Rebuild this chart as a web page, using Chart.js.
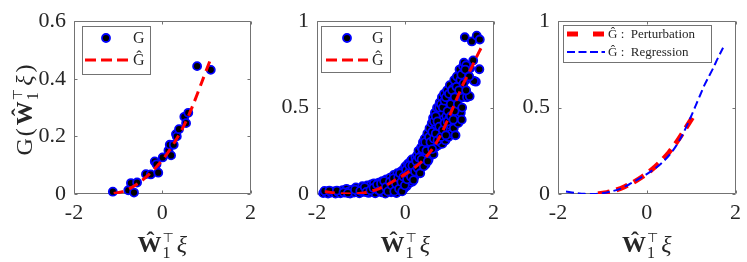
<!DOCTYPE html>
<html>
<head>
<meta charset="utf-8">
<script src="https://cdn.jsdelivr.net/npm/chart.js@4.4.1/dist/chart.umd.min.js"></script>
<style>
  html, body { margin: 0; padding: 0; background: #fff; }
  #wrap { position: relative; width: 747px; height: 262px; overflow: hidden; }
  .panel { position: absolute; top: 0; height: 262px; }
  canvas { display: block; }
</style>
</head>
<body>
<div id="wrap">
  <div class="panel" style="left:0;width:262px"><canvas id="c1" width="262" height="262"></canvas></div>
  <div class="panel" style="left:262px;width:243px"><canvas id="c2" width="243" height="262"></canvas></div>
  <div class="panel" style="left:505px;width:242px"><canvas id="c3" width="242" height="262"></canvas></div>
</div>
<script>
// ticks
const xTicks = [-2, 0, 2];
const yTicksLeft = [0, 0.2, 0.4, 0.6];
const yTicksUnit = [0, 0.5, 1];

// panel 1 : samples G and fitted curve
const g1X = [-1.12, -0.77, -0.71, -0.64, -0.57, -0.37, -0.26, -0.17, -0.13, -0.09, 0.01, 0.14, 0.17, 0.20,
  0.26, 0.31, 0.33, 0.38, 0.50, 0.54, 0.59, 0.79, 1.10];
const g1Y = [0.008, 0.013, 0.038, 0.005, 0.040, 0.069, 0.068, 0.113, 0.103, 0.074, 0.127, 0.151, 0.171, 0.134,
  0.171, 0.208, 0.200, 0.225, 0.268, 0.246, 0.282, 0.444, 0.431];
const fit1X = [-1.1, -0.9, -0.7, -0.5, -0.3, -0.1, 0.1, 0.3, 0.5, 0.7, 0.9, 1.1];
const fit1Y = [0.002, 0.008, 0.022, 0.042, 0.068, 0.1, 0.138, 0.185, 0.24, 0.31, 0.39, 0.47];

// panel 2 : many samples [x, G]
const g2Points = [
  [-1.86, 0.005], [-1.80, 0.01], [-1.75, 0.003], [-1.68, 0.008], [-1.62, 0.015], [-1.58, 0.002],
  [-1.52, 0.012], [-1.47, 0.004], [-1.42, 0.022], [-1.37, 0.008], [-1.33, 0.03], [-1.28, 0.015], [-1.25, 0.002],
  [-1.20, 0.025], [-1.16, 0.008], [-1.12, 0.038], [-1.08, 0.015], [-1.04, 0.004], [-1.00, 0.03], [-0.97, 0.045],
  [-0.94, 0.012], [-0.90, 0.025], [-0.86, 0.05], [-0.83, 0.006], [-0.80, 0.035], [-0.77, 0.055], [-0.74, 0.018],
  [-0.71, 0.062], [-0.68, 0.004], [-0.66, 0.04], [-0.62, 0.025], [-0.60, 0.066], [-0.57, 0.045], [-0.54, 0.01],
  [-0.52, 0.075], [-0.50, 0.035], [-0.47, 0.058], [-0.45, 0.002], [-0.43, 0.085], [-0.41, 0.02], [-0.38, 0.065],
  [-0.36, 0.045], [-0.34, 0.095], [-0.32, 0.01], [-0.30, 0.075], [-0.28, 0.03], [-0.26, 0.11], [-0.24, 0.055],
  [-0.22, 0.088], [-0.20, 0.005], [-0.18, 0.12], [-0.17, 0.04], [-0.15, 0.07], [-0.13, 0.10], [-0.11, 0.018],
  [-0.10, 0.13], [-0.08, 0.055], [-0.06, 0.085], [-0.05, 0.14], [-0.03, 0.03], [-0.02, 0.11], [0.00, 0.16],
  [0.01, 0.07], [0.03, 0.045], [0.04, 0.13], [0.05, 0.095], [0.06, 0.175], [0.08, 0.06], [0.10, 0.115],
  [0.11, 0.15], [0.12, 0.19], [0.14, 0.085], [0.15, 0.20], [0.16, 0.07], [0.18, 0.135], [0.20, 0.17],
  [0.21, 0.10], [0.23, 0.21], [0.24, 0.15], [0.26, 0.12], [0.27, 0.225], [0.29, 0.185], [0.30, 0.25],
  [0.32, 0.14], [0.33, 0.20], [0.35, 0.165], [0.36, 0.27], [0.38, 0.23], [0.40, 0.30], [0.41, 0.19],
  [0.43, 0.25], [0.44, 0.32], [0.46, 0.17], [0.47, 0.28], [0.49, 0.22], [0.50, 0.35], [0.52, 0.31],
  [0.53, 0.20], [0.55, 0.38], [0.56, 0.26], [0.58, 0.24], [0.59, 0.33], [0.60, 0.41], [0.62, 0.29],
  [0.63, 0.44], [0.64, 0.23], [0.66, 0.37], [0.67, 0.47], [0.68, 0.27], [0.70, 0.40], [0.71, 0.33],
  [0.72, 0.50], [0.74, 0.28], [0.75, 0.44], [0.76, 0.36], [0.78, 0.53], [0.79, 0.30], [0.80, 0.47],
  [0.82, 0.39], [0.83, 0.56], [0.84, 0.29], [0.86, 0.43], [0.87, 0.34], [0.88, 0.58], [0.90, 0.50],
  [0.91, 0.31], [0.93, 0.45], [0.94, 0.37], [0.95, 0.60], [0.97, 0.53], [0.98, 0.33], [1.00, 0.44],
  [1.01, 0.63], [1.02, 0.40], [1.04, 0.56], [1.05, 0.35], [1.07, 0.49], [1.08, 0.61], [1.10, 0.38],
  [1.11, 0.66], [1.13, 0.53], [1.14, 0.34], [1.15, 0.45], [1.17, 0.68], [1.18, 0.58], [1.20, 0.41],
  [1.21, 0.63], [1.23, 0.72], [1.24, 0.50], [1.25, 0.66], [1.26, 0.47], [1.28, 0.43], [1.30, 0.56],
  [1.31, 0.74], [1.33, 0.70], [1.33, 0.76], [1.35, 0.60], [1.37, 0.66], [1.40, 0.56], [1.35, 0.907],
  [1.51, 0.883], [1.62, 0.916], [1.69, 0.894], [1.54, 0.773], [1.47, 0.727], [1.68, 0.722], [1.60, 0.65],
  [1.46, 0.566], [1.42, 0.72], [1.38, 0.745], [1.56, 0.654],
  [-1.83, 0.018], [-1.72, 0.02], [-1.55, 0.02], [-1.40, 0.01], [-1.30, 0.005], [-1.14, 0.025],
  [-1.02, 0.018], [-0.92, 0.04], [-0.88, 0.012], [-0.79, 0.022], [-0.72, 0.035], [-0.64, 0.055],
  [-0.58, 0.02], [-0.55, 0.06], [-0.48, 0.075], [-0.44, 0.04], [-0.39, 0.015], [-0.35, 0.07],
  [-0.31, 0.05], [-0.27, 0.09], [-0.25, 0.015], [-0.21, 0.06], [-0.16, 0.095], [-0.14, 0.03],
  [-0.12, 0.12], [-0.09, 0.07], [-0.07, 0.015], [-0.04, 0.10], [-0.01, 0.05], [0.02, 0.14],
  [0.04, 0.085], [0.07, 0.12], [0.09, 0.165], [0.13, 0.10], [0.16, 0.165], [0.19, 0.08],
  [0.22, 0.13], [0.25, 0.19], [0.28, 0.15], [0.31, 0.21], [0.34, 0.12], [0.37, 0.20],
  [0.39, 0.26], [0.42, 0.16], [0.45, 0.30], [0.48, 0.25], [0.51, 0.19], [0.54, 0.33],
  [0.57, 0.30], [0.61, 0.36], [0.61, 0.26], [0.65, 0.32], [0.65, 0.42], [0.69, 0.35],
  [0.69, 0.45], [0.73, 0.31], [0.73, 0.42], [0.77, 0.39], [0.77, 0.50], [0.81, 0.33],
  [0.81, 0.52], [0.85, 0.37], [0.85, 0.50], [0.89, 0.41], [0.89, 0.54], [0.92, 0.34],
  [0.92, 0.56], [0.96, 0.42], [0.96, 0.48], [0.99, 0.58], [1.03, 0.45], [1.03, 0.52],
  [1.06, 0.60], [1.09, 0.43], [1.12, 0.56], [1.12, 0.48], [1.16, 0.62], [1.19, 0.52],
  [1.22, 0.60], [1.27, 0.69], [1.29, 0.50], [1.32, 0.64], [1.36, 0.72], [1.38, 0.60], [1.45, 0.68]
];

// regression curve (panels 2 and 3)
const regX = [-1.82, -1.6, -1.4, -1.2, -1.0, -0.8, -0.6, -0.4, -0.2, 0.0, 0.2, 0.4, 0.6, 0.8, 1.0, 1.1, 1.2,
  1.3, 1.4, 1.5, 1.6, 1.72];
const regY = [0.015, 0.006, 0.001, 0.0, 0.004, 0.015, 0.03, 0.055, 0.085, 0.115, 0.15, 0.195, 0.255, 0.34,
  0.45, 0.51, 0.57, 0.63, 0.68, 0.73, 0.785, 0.846];

// perturbation curve (panel 3)
const pertX = fit1X;
const pertY = fit1Y;

const AXIS = '#737373';
const INK = '#262626';
const SERIF = '"Liberation Serif", "DejaVu Serif", serif';

const toXY = (xs, ys) => xs.map((x, i) => ({ x: x, y: ys[i] }));

const framePlugin = {
  id: 'frame',
  beforeDatasetsDraw(chart) {
    const ctx = chart.ctx, a = chart.chartArea;
    const sx = chart.scales.x, sy = chart.scales.y;
    ctx.save();
    ctx.strokeStyle = AXIS;
    ctx.lineWidth = 1;
    ctx.beginPath();
    const L = Math.round(a.left) + 0.5, R = Math.round(a.right) - 0.5;
    const T = Math.round(a.top) + 0.5, B = Math.round(a.bottom) - 0.5;
    ctx.rect(L, T, R - L, B - T);
    sx.ticks.forEach(t => {
      const px = Math.round(sx.getPixelForValue(t.value)) + 0.5;
      ctx.moveTo(px, B); ctx.lineTo(px, B - 3);
      ctx.moveTo(px, T); ctx.lineTo(px, T + 3);
    });
    sy.ticks.forEach(t => {
      const py = Math.round(sy.getPixelForValue(t.value)) + 0.5;
      ctx.moveTo(L, py); ctx.lineTo(L + 3, py);
      ctx.moveTo(R, py); ctx.lineTo(R - 3, py);
    });
    ctx.stroke();
    ctx.restore();
  }
};

const legendPlugin = {
  id: 'mathLegend',
  afterDraw(chart, args, o) {
    const ctx = chart.ctx, a = chart.chartArea;
    const bx = Math.round(a.left + o.x), by = Math.round(a.top + o.y);
    ctx.save();
    ctx.fillStyle = '#fff';
    ctx.fillRect(bx, by, o.w, o.h);
    ctx.strokeStyle = AXIS;
    ctx.lineWidth = 1;
    ctx.strokeRect(bx + 0.5, by + 0.5, o.w, o.h);
    chart.data.datasets.forEach((ds, i) => {
      const ry = by + o.rows[i];
      if (ds.showLine) {
        ctx.save();
        ctx.strokeStyle = ds.borderColor;
        ctx.lineWidth = ds.borderWidth;
        ctx.setLineDash(o.dashes[i]);
        ctx.beginPath();
        ctx.moveTo(bx + o.lineFrom, ry);
        ctx.lineTo(bx + o.lineTo, ry);
        ctx.stroke();
        ctx.restore();
      } else {
        ctx.beginPath();
        ctx.arc(bx + o.marker, ry, ds.pointRadius, 0, Math.PI * 2);
        ctx.fillStyle = ds.pointBackgroundColor;
        ctx.fill();
        ctx.lineWidth = ds.pointBorderWidth;
        ctx.strokeStyle = ds.pointBorderColor;
        ctx.stroke();
      }
      ctx.fillStyle = INK;
      ctx.font = o.font;
      ctx.textBaseline = 'middle';
      ctx.textAlign = 'left';
      ctx.fillText(ds.label, bx + o.textX, ry + 1);
    });
    ctx.restore();
  }
};

// text with sub/superscript pieces, drawn along a baseline
function drawMath(ctx, parts, cx, cy, rotate) {
  ctx.save();
  ctx.translate(cx, cy);
  if (rotate) ctx.rotate(-Math.PI / 2);
  let x = 0, prevStart = 0;
  const pos = [];
  parts.forEach(p => {
    ctx.font = p.f;
    const start = (p.back ? prevStart : x);
    const px = start + (p.dx || 0);
    pos.push(px);
    prevStart = start;
    x = Math.max(x, px + ctx.measureText(p.t).width);
  });
  const off = -x / 2;
  ctx.fillStyle = INK;
  ctx.textBaseline = 'alphabetic';
  ctx.textAlign = 'left';
  parts.forEach((p, i) => {
    ctx.font = p.f;
    ctx.fillText(p.t, off + pos[i], p.dy || 0);
  });
  ctx.restore();
}

const BIG = '24px ' + SERIF;
const BOLD = 'bold 24px ' + SERIF;
const ITAL = 'italic 24px ' + SERIF;
const SMALL = '16px ' + SERIF;
const SUP = '13px "DejaVu Sans", sans-serif';
const wxiParts = [
  { t: 'Ŵ', f: BOLD },
  { t: '1', f: SMALL, dy: 6, dx: 1 },
  { t: '⊤', f: SUP, dy: -10, dx: 1, back: true },
  { t: 'ξ', f: ITAL, dx: 3 }
];

const titlePlugin = {
  id: 'mathTitles',
  afterDraw(chart, args, o) {
    const ctx = chart.ctx, a = chart.chartArea;
    drawMath(ctx, wxiParts, (a.left + a.right) / 2, 252, false);
    if (o.y) {
      const parts = [{ t: 'G', f: BIG }, { t: '(', f: BIG, dx: 2 }, Object.assign({}, wxiParts[0], { dx: 3 })]
        .concat(wxiParts.slice(1), [{ t: ')', f: BIG, dx: 3 }]);
      drawMath(ctx, parts, 32, 110, true);
    }
  }
};

function makePanel(id, p) {
  const canvas = document.getElementById(id);
  const tickFont = { family: SERIF, size: 22 };
  return new Chart(canvas, {
    type: 'scatter',
    data: { datasets: p.datasets },
    options: {
      responsive: false,
      animation: false,
      events: [],
      layout: { padding: { left: 0, top: 12, right: canvas.width - p.right, bottom: 0 } },
      plugins: {
        legend: { display: false },
        tooltip: { enabled: false },
        mathLegend: p.legend,
        mathTitles: { y: p.yTitle }
      },
      scales: {
        x: {
          type: 'linear', min: -2, max: 2,
          afterBuildTicks: s => { s.ticks = xTicks.map(v => ({ value: v })); },
          afterFit: s => { s.height = 262 - 194; },
          grid: { display: false, drawTicks: false },
          border: { display: false },
          ticks: { font: tickFont, color: INK, padding: 6, maxRotation: 0, callback: v => String(v) }
        },
        y: {
          type: 'linear', min: 0, max: p.yMax,
          afterBuildTicks: s => { s.ticks = p.yTicks.map(v => ({ value: v })); },
          afterFit: s => { s.width = p.left; },
          grid: { display: false, drawTicks: false },
          border: { display: false },
          ticks: { font: tickFont, color: INK, padding: 8, callback: v => String(v) }
        }
      }
    },
    plugins: [framePlugin, legendPlugin, titlePlugin]
  });
}

const scatterStyle = {
  showLine: false, pointRadius: 4, pointBorderWidth: 1.8,
  pointBackgroundColor: '#000000', pointBorderColor: '#0000ff', clip: false, order: 1
};
const redFit = {
  showLine: true, pointRadius: 0, borderColor: '#ff0000', borderWidth: 3,
  borderDash: [10, 6], tension: 0.3, order: 0
};

makePanel('c1', {
  left: 74, right: 257, yMax: 0.6, yTicks: yTicksLeft, yTitle: true,
  datasets: [
    Object.assign({ label: 'G', data: toXY(g1X, g1Y) }, scatterStyle),
    Object.assign({ label: 'Ĝ', data: toXY(fit1X, fit1Y) }, redFit)
  ],
  legend: { x: 8, y: 5, w: 68, h: 48, rows: [12, 34], marker: 24, lineFrom: 3, lineTo: 46, textX: 51,
    font: '16px ' + SERIF, dashes: [[], [11, 5]] }
});

makePanel('c2', {
  left: 55, right: 238, yMax: 1, yTicks: yTicksUnit, yTitle: false,
  datasets: [
    Object.assign({ label: 'G', data: g2Points.map(p => ({ x: p[0], y: p[1] })) }, scatterStyle),
    Object.assign({ label: 'Ĝ', data: toXY(regX, regY) }, redFit)
  ],
  legend: { x: 4, y: 5, w: 69, h: 46, rows: [12, 34], marker: 26, lineFrom: 5, lineTo: 47, textX: 51,
    font: '16px ' + SERIF, dashes: [[], [11, 5]] }
});

makePanel('c3', {
  left: 53, right: 236, yMax: 1, yTicks: yTicksUnit, yTitle: false,
  datasets: [
    { label: 'Ĝ :  Perturbation', data: toXY(pertX, pertY), showLine: true, pointRadius: 0,
      borderColor: '#ff0000', borderWidth: 5, borderDash: [12, 7], tension: 0.3, order: 1 },
    { label: 'Ĝ :  Regression', data: toXY(regX, regY), showLine: true, pointRadius: 0,
      borderColor: '#0000ff', borderWidth: 2, borderDash: [8, 4], tension: 0.3, order: 0 }
  ],
  legend: { x: 5, y: 4, w: 148, h: 37, rows: [9, 27], marker: 20, lineFrom: 4, lineTo: 42, textX: 45,
    font: '13px ' + SERIF, dashes: [[11, 15], [8, 3.5]] }
});
</script>
</body>
</html>
